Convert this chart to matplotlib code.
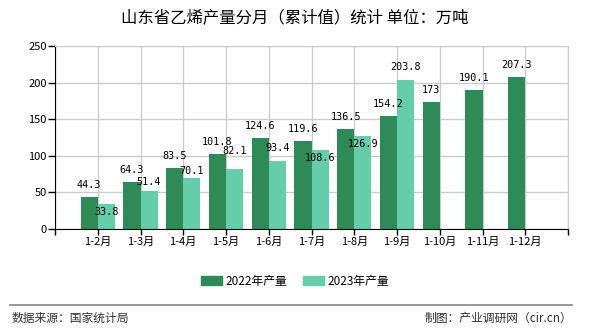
import numpy as np
import matplotlib
matplotlib.use("Agg")
import matplotlib.pyplot as plt
from matplotlib.patches import Patch

plt.rcParams['font.family'] = ['Noto Sans CJK SC', 'DejaVu Sans']

# chart data
months = ["1-2月", "1-3月", "1-4月", "1-5月", "1-6月", "1-7月",
          "1-8月", "1-9月", "1-10月", "1-11月", "1-12月"]
prod_2022 = [44.3, 64.3, 83.5, 101.8, 124.6, 119.6, 136.5, 154.2, 173, 190.1, 207.3]
prod_2023 = [33.8, 51.4, 70.1, 82.1, 93.4, 108.6, 126.9, 203.8]
labels_2022 = ["44.3", "64.3", "83.5", "101.8", "124.6", "119.6", "136.5", "154.2", "173", "190.1", "207.3"]
labels_2023 = ["33.8", "51.4", "70.1", "82.1", "93.4", "108.6", "126.9", "203.8"]

# label offsets (pixels above bar top) for the 2023 series
off_2023 = [-8, 9, 7, 18, 13, -8, -8, 13]

C22 = "#2E8B57"
C23 = "#66CDAA"

fig = plt.figure(figsize=(5.9, 3.3), dpi=100)
ax = fig.add_axes([55 / 590, 1 - 229 / 330, 513 / 590, 183 / 330])

x = np.arange(1, len(months) + 1)
w = 0.4
ax.bar(x[:len(prod_2022)] - w / 2, prod_2022, width=w, color=C22, zorder=2)
ax.bar(x[:len(prod_2023)] + w / 2, prod_2023, width=w, color=C23, zorder=2)

mono = "DejaVu Sans Mono"
for xi, v, s in zip(x, prod_2022, labels_2022):
    ax.annotate(s, (xi - w / 2, v), xytext=(0, 12), textcoords="offset pixels",
                ha="center", va="center", fontsize=7.3, family=mono, zorder=3)
for xi, v, s, o in zip(x, prod_2023, labels_2023, off_2023):
    ax.annotate(s, (xi + w / 2, v), xytext=(0, o), textcoords="offset pixels",
                ha="center", va="center", fontsize=7.3, family=mono, zorder=3)

ax.set_xlim(0, 12)
ax.set_ylim(0, 250)
ax.set_yticks(np.arange(0, 251, 50))
ax.set_xticks(np.arange(0, 13))
ax.set_xticklabels([""] + months + [""])
ax.tick_params(axis="x", length=4, width=1, labelsize=8, pad=2)
ax.tick_params(axis="y", length=5, width=1, labelsize=8, pad=1)
ax.grid(True, color="#cccccc", linewidth=1, zorder=0)
ax.set_axisbelow(True)
for s in ["top", "right"]:
    ax.spines[s].set_color("#cccccc")
for s in ["left", "bottom"]:
    ax.spines[s].set_color("black")

fig.text(0.5, 1 - 18 / 330, "山东省乙烯产量分月（累计值）统计 单位：万吨",
         ha="center", va="center", fontsize=11.8)

handles = [Patch(color=C22, label="2022年产量"), Patch(color=C23, label="2023年产量")]
fig.legend(handles=handles, loc="center", bbox_to_anchor=(0.5, 1 - 281 / 330), ncol=2,
           frameon=False, fontsize=8.5, handlelength=1.8, handleheight=0.85,
           handletextpad=0.3, columnspacing=1.35)

fig.add_artist(plt.Line2D([10 / 590, 572 / 590], [1 - 305 / 330] * 2,
                          color="#888888", linewidth=1.2))
fig.text(12 / 590, 1 - 318 / 330, "数据来源：国家统计局", ha="left", va="center",
         fontsize=8.5, color="#333333")
fig.text(572 / 590, 1 - 318 / 330, "制图：产业调研网（cir.cn）", ha="right", va="center",
         fontsize=8.5, color="#333333")

fig.savefig("out.png", dpi=100)
